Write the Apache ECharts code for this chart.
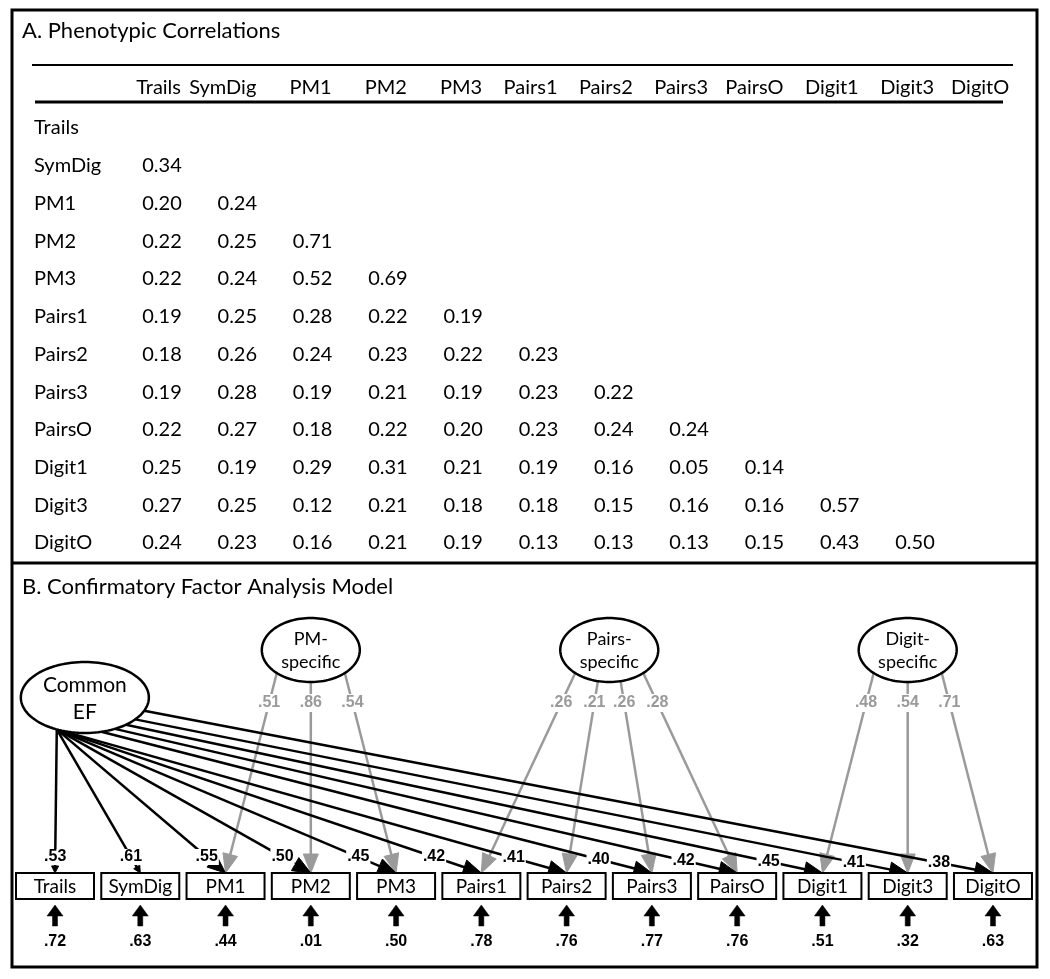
<!DOCTYPE html>
<html><head><meta charset="utf-8">
<script src="https://cdn.jsdelivr.net/npm/echarts@6/dist/echarts.min.js"></script>
<style>html,body{margin:0;padding:0;background:#fff}#c{width:1050px;height:979px}</style>
</head><body><div id="c"></div>
<script>
// ---------- DATA ----------
const variables = ['Trails','SymDig','PM1','PM2','PM3','Pairs1','Pairs2','Pairs3','PairsO','Digit1','Digit3','DigitO'];
// lower-triangular phenotypic correlations, one row per variable
const corrRows = [
  [],
  [0.34],
  [0.20, 0.24],
  [0.22, 0.25, 0.71],
  [0.22, 0.24, 0.52, 0.69],
  [0.19, 0.25, 0.28, 0.22, 0.19],
  [0.18, 0.26, 0.24, 0.23, 0.22, 0.23],
  [0.19, 0.28, 0.19, 0.21, 0.19, 0.23, 0.22],
  [0.22, 0.27, 0.18, 0.22, 0.20, 0.23, 0.24, 0.24],
  [0.25, 0.19, 0.29, 0.31, 0.21, 0.19, 0.16, 0.05, 0.14],
  [0.27, 0.25, 0.12, 0.21, 0.18, 0.18, 0.15, 0.16, 0.16, 0.57],
  [0.24, 0.23, 0.16, 0.21, 0.19, 0.13, 0.13, 0.13, 0.15, 0.43, 0.50]
];
const commonLoadings = [0.53, 0.61, 0.55, 0.50, 0.45, 0.42, 0.41, 0.40, 0.42, 0.45, 0.41, 0.38];
const residuals      = [0.72, 0.63, 0.44, 0.01, 0.50, 0.78, 0.76, 0.77, 0.76, 0.51, 0.32, 0.63];
const pmMembers = ['PM1','PM2','PM3'];
const pmLoadings = [0.51, 0.86, 0.54];
const pairsMembers = ['Pairs1','Pairs2','Pairs3','PairsO'];
const pairsLoadings = [0.26, 0.21, 0.26, 0.28];
const digitMembers = ['Digit1','Digit3','DigitO'];
const digitLoadings = [0.48, 0.54, 0.71];
const factorNames = ['Common\nEF', 'PM-\nspecific', 'Pairs-\nspecific', 'Digit-\nspecific'];
const titleA = 'A. Phenotypic Correlations';
const titleB = 'B. Confirmatory Factor Analysis Model';

// ---------- LAYOUT / STYLE ----------
const FONT = 'Lato, "Open Sans", sans-serif';
const NUMFONT = 'bold 16px "Liberation Sans", Arial, sans-serif';
const GRAY = '#9a9a9a';
const BOX_TOP = 873, BOX_H = 26, BOX_W = 78;
const LOAD_Y = 857, SPEC_LABEL_Y = 703;
const EF_XI = 0.35, EF_CY = 697.5, EF_RX = 64, EF_RY = 35.5;
const SP_CY = 650, SP_RX = 49, SP_RY = 32;
const START_ANGLES = [116,116,116,116,116,116,116,75,62,50,38,22];

const fmt = v => v.toFixed(2).replace(/^0/, '');
const idxOf = n => variables.indexOf(n);
const mean = a => a.reduce((s, x) => s + x, 0) / a.length;
const specGroups = [
  {members: pmMembers.map(idxOf), loads: pmLoadings},
  {members: pairsMembers.map(idxOf), loads: pairsLoadings},
  {members: digitMembers.map(idxOf), loads: digitLoadings}
];

// table cell data
const cellData = [];
corrRows.forEach((row, i) => row.forEach((v, j) => cellData.push([j, i, v])));
const headerData = variables.map((v, j) => [j, 0]);

// diagram data
const indicatorData = variables.map((v, i) => [i, commonLoadings[i], residuals[i]]);
const factorData = [[EF_XI, 0]].concat(specGroups.map((g, k) => [mean(g.members), k + 1]));
const grayData = [];
specGroups.forEach((g, f) => g.members.forEach((m, k) => grayData.push([m, f, k, g.members.length, g.loads[k]])));

// ---------- GEOMETRY HELPERS ----------
function ellipsePts(cx, cy, rx, ry) {
  const p = [];
  for (let k = 0; k < 120; k++) { const a = k / 120 * 2 * Math.PI; p.push([cx + rx * Math.cos(a), cy + ry * Math.sin(a)]); }
  return p;
}
function arrowEls(s, t, len, hw, color, lw) {
  const dx = t[0] - s[0], dy = t[1] - s[1], L = Math.hypot(dx, dy);
  const ux = dx / L, uy = dy / L, nx = -uy, ny = ux;
  const b = [t[0] - ux * len, t[1] - uy * len];
  const e = [t[0] - ux * len * 0.6, t[1] - uy * len * 0.6];
  return [
    {type: 'polyline', shape: {points: [s, e]}, style: {stroke: color, lineWidth: lw, fill: null}},
    {type: 'polygon', shape: {points: [t, [b[0] + nx * hw, b[1] + ny * hw], [b[0] - nx * hw, b[1] - ny * hw]]}, style: {fill: color, stroke: color, lineWidth: 1}}
  ];
}
function pointAtY(s, t, y, cap) {
  const u = (y - s[1]) / (t[1] - s[1]);
  let p = [s[0] + u * (t[0] - s[0]), y];
  if (cap) {
    const d = Math.hypot(t[0] - p[0], t[1] - p[1]);
    if (d > cap) {
      const L = Math.hypot(t[0] - s[0], t[1] - s[1]);
      p = [t[0] - (t[0] - s[0]) / L * cap, t[1] - (t[1] - s[1]) / L * cap];
    }
  }
  return p;
}
function blackGeom(api, i) {
  const c = api.coord([EF_XI, EF_CY]);
  const a = START_ANGLES[i] * Math.PI / 180;
  const s = [c[0] + EF_RX * Math.cos(a), c[1] + EF_RY * Math.sin(a)];
  const t = api.coord([i, BOX_TOP]);
  return {s, t};
}
function grayGeom(api, m, f, k, n) {
  const cx = api.coord([mean(specGroups[f].members), SP_CY]);
  const dx = -34 + 68 * k / (n - 1);
  const s = [cx[0] + dx, cx[1] + SP_RY * Math.sqrt(1 - (dx / SP_RX) * (dx / SP_RX))];
  const t = api.coord([m, BOX_TOP]);
  return {s, t};
}

const chart = echarts.init(document.getElementById('c'), null, {renderer: 'canvas'});
const colW = 75.3, rowH = 37.73;
const gridALeft = 162 - colW / 2, gridATop = 128 - rowH / 2;
const pxB = 85.27;
const gridBLeft = 55 - pxB / 2;

chart.setOption({
  animation: false,
  backgroundColor: '#fff',
  title: [
    {text: titleA, left: 22, top: 19, padding: 0, textStyle: {fontFamily: FONT, fontSize: 22, fontWeight: 'normal', color: '#000', lineHeight: 24}},
    {text: titleB, left: 22, top: 575, padding: 0, textStyle: {fontFamily: FONT, fontSize: 22, fontWeight: 'normal', color: '#000', lineHeight: 24}}
  ],
  grid: [
    {left: gridALeft, top: gridATop, width: colW * 12, height: rowH * 12},
    {left: gridBLeft, top: 563, width: pxB * 12, height: 404}
  ],
  xAxis: [
    {type: 'category', gridIndex: 0, data: variables, position: 'top', axisLine: {show: false}, axisTick: {show: false}, axisLabel: {show: false}, splitLine: {show: false}},
    {type: 'value', gridIndex: 1, min: -0.5, max: 11.5, show: false}
  ],
  yAxis: [
    {type: 'category', gridIndex: 0, data: variables, inverse: true, axisLine: {show: false}, axisTick: {show: false}, splitLine: {show: false},
     axisLabel: {align: 'left', margin: gridALeft - 34, fontFamily: FONT, fontSize: 20, color: '#000'}},
    {type: 'value', gridIndex: 1, min: 563, max: 967, inverse: true, show: false}
  ],
  graphic: [
    {type: 'rect', shape: {x: 12, y: 10, width: 1025, height: 957}, style: {fill: null, stroke: '#000', lineWidth: 3}, z: 100},
    {type: 'line', shape: {x1: 12, y1: 563, x2: 1037, y2: 563}, style: {stroke: '#000', lineWidth: 3}, z: 100},
    {type: 'line', shape: {x1: 32, y1: 65, x2: 1013, y2: 65}, style: {stroke: '#000', lineWidth: 2}},
    {type: 'line', shape: {x1: 35, y1: 102, x2: 1003, y2: 102}, style: {stroke: '#000', lineWidth: 3}}
  ],
  series: [
    // table header
    {type: 'custom', xAxisIndex: 0, yAxisIndex: 0, data: headerData, silent: true,
     renderItem: (p, api) => {
       const c = api.coord([api.value(0), 0]);
       return {type: 'text', style: {text: variables[p.dataIndex], x: c[0] + 19, y: c[1] - 40, align: 'right', verticalAlign: 'middle', font: '20px ' + FONT, fill: '#000'}};
     }},
    // table cells
    {type: 'custom', xAxisIndex: 0, yAxisIndex: 0, data: cellData, silent: true,
     renderItem: (p, api) => {
       const c = api.coord([api.value(0), api.value(1)]);
       return {type: 'text', style: {text: api.value(2).toFixed(2), x: c[0], y: c[1], align: 'center', verticalAlign: 'middle', font: '20px ' + FONT, fill: '#000'}};
     }},
    // gray specific paths
    {type: 'custom', xAxisIndex: 1, yAxisIndex: 1, data: grayData, silent: true, z: 2,
     renderItem: (p, api) => {
       const g = grayGeom(api, api.value(0), api.value(1), api.value(2), api.value(3));
       return {type: 'group', children: arrowEls(g.s, g.t, 19, 7.5, GRAY, 2.5)};
     }},
    // black common paths
    {type: 'custom', xAxisIndex: 1, yAxisIndex: 1, data: indicatorData, silent: true, z: 3,
     renderItem: (p, api) => {
       const i = api.value(0);
       const g = blackGeom(api, i);
       const small = i < 2;
       return {type: 'group', children: arrowEls(g.s, g.t, small ? 7 : 18, small ? 3.5 : 7.5, '#000', 2.5)};
     }},
    // black loading labels
    {type: 'custom', xAxisIndex: 1, yAxisIndex: 1, data: indicatorData, silent: true, z: 4,
     renderItem: (p, api) => {
       const g = blackGeom(api, api.value(0));
       const q = pointAtY(g.s, g.t, LOAD_Y, 55);
       return {type: 'text', style: {text: fmt(api.value(1)), x: q[0], y: q[1], align: 'center', verticalAlign: 'middle', font: NUMFONT, fill: '#000', backgroundColor: '#fff', padding: [0, 1]}};
     }},
    // gray loading labels
    {type: 'custom', xAxisIndex: 1, yAxisIndex: 1, data: grayData, silent: true, z: 4,
     renderItem: (p, api) => {
       const g = grayGeom(api, api.value(0), api.value(1), api.value(2), api.value(3));
       const q = pointAtY(g.s, g.t, SPEC_LABEL_Y, 0);
       return {type: 'text', style: {text: fmt(api.value(4)), x: q[0], y: q[1], align: 'center', verticalAlign: 'middle', font: NUMFONT, fill: GRAY, backgroundColor: '#fff', padding: [1, 1]}};
     }},
    // indicator boxes, residual arrows and residual labels
    {type: 'custom', xAxisIndex: 1, yAxisIndex: 1, data: indicatorData, silent: true, z: 5,
     renderItem: (p, api) => {
       const i = api.value(0);
       const c = api.coord([i, BOX_TOP]);
       const x = c[0];
       const a = api.coord([i, 926]);
       const tip = api.coord([i, 905]);
       const base = api.coord([i, 916]);
       const lab = api.coord([i, 942]);
       return {type: 'group', children: [
         {type: 'rect', shape: {x: x - BOX_W / 2, y: c[1], width: BOX_W, height: BOX_H}, style: {fill: '#fff', stroke: '#000', lineWidth: 2}},
         {type: 'text', style: {text: variables[i], x: x, y: c[1] + BOX_H / 2 + 0.5, align: 'center', verticalAlign: 'middle', font: '19px ' + FONT, fill: '#000'}},
         {type: 'polygon', shape: {points: [[x - 2.5, a[1]], [x - 2.5, base[1]], [x - 8, base[1]], [x, tip[1]], [x + 8, base[1]], [x + 2.5, base[1]], [x + 2.5, a[1]]]}, style: {fill: '#000', stroke: '#000', lineWidth: 0.5}},
         {type: 'text', style: {text: fmt(api.value(2)), x: x, y: lab[1], align: 'center', verticalAlign: 'middle', font: NUMFONT, fill: '#000'}}
       ]};
     }},
    // latent factors
    {type: 'custom', xAxisIndex: 1, yAxisIndex: 1, data: factorData, silent: true, z: 6,
     renderItem: (p, api) => {
       const f = api.value(1);
       const isEF = f === 0;
       const c = api.coord([api.value(0), isEF ? EF_CY : SP_CY]);
       const rx = isEF ? EF_RX : SP_RX, ry = isEF ? EF_RY : SP_RY;
       return {type: 'group', children: [
         {type: 'polygon', shape: {points: ellipsePts(c[0], c[1], rx, ry)}, style: {fill: '#fff', stroke: '#000', lineWidth: 2.5}},
         {type: 'text', style: {text: factorNames[f], x: c[0], y: c[1] + 1, align: 'center', verticalAlign: 'middle',
           font: (isEF ? '21px ' : '18px ') + FONT, lineHeight: isEF ? 27 : 23, fill: '#000'}}
       ]};
     }}
  ]
});
</script></body></html>
